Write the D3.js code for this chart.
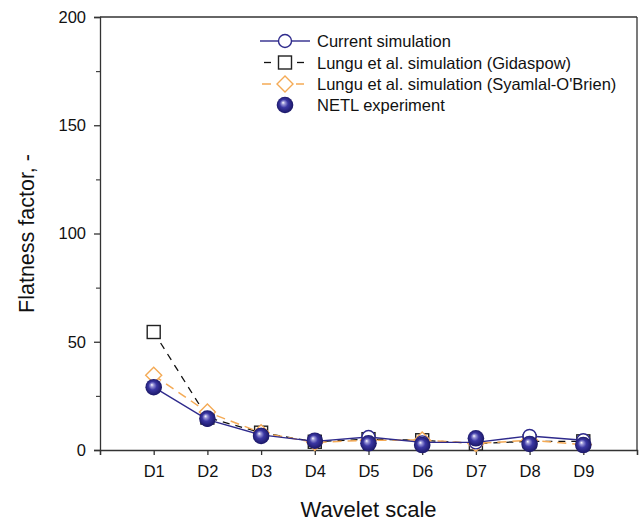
<!DOCTYPE html>
<html>
<head>
<meta charset="utf-8">
<script src="https://cdn.jsdelivr.net/npm/d3@7"></script>
<style>
  html, body { margin: 0; padding: 0; background: #fff; }
  svg { display: block; font-family: "Liberation Sans", Arial, sans-serif; }
</style>
</head>
<body>
<svg id="chart" width="639" height="522"></svg>
<script>
// Wavelet scales and flatness factor per scale
const scales = ["D1", "D2", "D3", "D4", "D5", "D6", "D7", "D8", "D9"];
const currentSim = [29, 14, 7, 4, 6, 3.5, 3.5, 6.5, 4.5];
const gidaspow = [54.5, 15, 8, 3.8, 5, 4.5, 3, 4, 4];
const syamlal = [34.5, 17.5, 8, 3.5, 4.5, 4.6, 3, 4.5, 2.5];
const netl = [29, 14.5, 6.5, 4.3, 3.1, 2.3, 5.4, 2.8, 2.3];
const yTicks = [0, 50, 100, 150, 200];
const yMinorTicks = [25, 75, 125, 175];

const legendLabels = [
  "Current simulation",
  "Lungu et al. simulation (Gidaspow)",
  "Lungu et al. simulation (Syamlal-O'Brien)",
  "NETL experiment"
];

const navy = "#2e2a8c";
const orange = "#f4aa55";
const font = "'Liberation Sans', Arial, sans-serif";

const svg = d3.select("#chart");
const margin = { left: 100, right: 2, top: 17, bottom: 72 };
const W = 639, H = 522;

const x = d3.scaleLinear().domain([0, 10]).range([margin.left, W - margin.right]);
const y = d3.scaleLinear().domain([0, 200]).range([H - margin.bottom, margin.top]);

// sphere shading for the experiment markers
const defs = svg.append("defs");
const grad = defs.append("radialGradient")
  .attr("id", "sphere").attr("cx", "50%").attr("cy", "50%").attr("r", "55%")
  .attr("fx", "38%").attr("fy", "35%");
grad.append("stop").attr("offset", "0%").attr("stop-color", "#ffffff");
grad.append("stop").attr("offset", "18%").attr("stop-color", "#9a97d8");
grad.append("stop").attr("offset", "45%").attr("stop-color", "#3b37a3");
grad.append("stop").attr("offset", "100%").attr("stop-color", "#15125c");

// frame
svg.append("line").attr("x1", x(0)).attr("x2", x(10)).attr("y1", y(200)).attr("y2", y(200))
  .attr("stroke", "#333").attr("stroke-width", 1.3);
svg.append("line").attr("x1", x(10)).attr("x2", x(10)).attr("y1", y(200)).attr("y2", y(0))
  .attr("stroke", "#333").attr("stroke-width", 1.3);

// y axis
const yAxis = d3.axisLeft(y).tickValues(yTicks).tickSize(6).tickPadding(8).tickFormat(d3.format("d"));
const gy = svg.append("g").attr("transform", `translate(${x(0)},0)`).call(yAxis);
gy.select(".domain").attr("stroke", "#333").attr("stroke-width", 1.3);
gy.selectAll(".tick line").attr("stroke", "#333").attr("stroke-width", 1.3);
gy.selectAll(".tick text").attr("font-size", 16.5).attr("fill", "#111").attr("font-family", font);
const yMinor = d3.axisLeft(y).tickValues(yMinorTicks).tickSize(4).tickFormat("");
const gym = svg.append("g").attr("transform", `translate(${x(0)},0)`).call(yMinor);
gym.select(".domain").remove();
gym.selectAll(".tick line").attr("stroke", "#333").attr("stroke-width", 1.1);

// x axis
const xAxis = d3.axisBottom(x).tickValues(d3.range(0, 11)).tickSize(5).tickPadding(10)
  .tickFormat(d => (d >= 1 && d <= 9) ? scales[d - 1] : "");
const gx = svg.append("g").attr("transform", `translate(0,${y(0)})`).call(xAxis);
gx.select(".domain").attr("stroke", "#333").attr("stroke-width", 1.3);
gx.selectAll(".tick line").attr("stroke", "#333").attr("stroke-width", 1.3);
gx.selectAll(".tick text").attr("font-size", 16.5).attr("fill", "#111").attr("font-family", font);

// axis titles
svg.append("text").attr("x", (x(0) + x(10)) / 2).attr("y", 517)
  .attr("text-anchor", "middle").attr("font-size", 22).attr("fill", "#111").text("Wavelet scale");
svg.append("text")
  .attr("transform", `translate(34,${(y(0) + y(200)) / 2}) rotate(-90)`)
  .attr("text-anchor", "middle").attr("font-size", 21.5).attr("fill", "#111").text("Flatness factor, -");

const line = d3.line().x((d, i) => x(i + 1)).y(d => y(d));
const plot = svg.append("g");

// marker shapes
function square(g, cx, cy, color) {
  g.append("rect").attr("x", cx - 6.5).attr("y", cy - 6.5).attr("width", 13).attr("height", 13)
    .attr("fill", "#fff").attr("stroke", color).attr("stroke-width", 1.4);
}
function diamond(g, cx, cy, color) {
  const r = 8;
  g.append("path").attr("d", `M${cx},${cy - r}L${cx + r},${cy}L${cx},${cy + r}L${cx - r},${cy}Z`)
    .attr("fill", "#fff").attr("stroke", color).attr("stroke-width", 1.4);
}
function circle(g, cx, cy, color) {
  g.append("circle").attr("cx", cx).attr("cy", cy).attr("r", 6.5)
    .attr("fill", "#fff").attr("stroke", color).attr("stroke-width", 1.4);
}
function sphere(g, cx, cy) {
  g.append("circle").attr("cx", cx).attr("cy", cy).attr("r", 8.3).attr("fill", "url(#sphere)");
}

// Gidaspow series
plot.append("path").datum(gidaspow).attr("d", line).attr("fill", "none")
  .attr("stroke", "#111").attr("stroke-width", 1.3).attr("stroke-dasharray", "7,6");
gidaspow.forEach((v, i) => square(plot, x(i + 1), y(v), "#222"));

// Syamlal-O'Brien series
plot.append("path").datum(syamlal).attr("d", line).attr("fill", "none")
  .attr("stroke", orange).attr("stroke-width", 1.5).attr("stroke-dasharray", "9,6");
syamlal.forEach((v, i) => diamond(plot, x(i + 1), y(v), orange));

// current simulation series
plot.append("path").datum(currentSim).attr("d", line).attr("fill", "none")
  .attr("stroke", navy).attr("stroke-width", 1.4);
currentSim.forEach((v, i) => circle(plot, x(i + 1), y(v), navy));

// experiment
netl.forEach((v, i) => sphere(plot, x(i + 1), y(v)));

// legend
const legend = svg.append("g");
const rows = [41, 62.5, 84, 105];
const lx1 = 260, lx2 = 310, lm = 285, tx = 317;
// row 1: solid line with circle
legend.append("line").attr("x1", lx1).attr("x2", lm - 7).attr("y1", rows[0]).attr("y2", rows[0])
  .attr("stroke", navy).attr("stroke-width", 1.4);
legend.append("line").attr("x1", lm + 7).attr("x2", lx2).attr("y1", rows[0]).attr("y2", rows[0])
  .attr("stroke", navy).attr("stroke-width", 1.4);
circle(legend, lm, rows[0], navy);
// row 2: dashed black with square
legend.append("line").attr("x1", lx1 + 4).attr("x2", lx1 + 11).attr("y1", rows[1]).attr("y2", rows[1])
  .attr("stroke", "#111").attr("stroke-width", 1.3);
legend.append("line").attr("x1", lm + 12).attr("x2", lm + 19).attr("y1", rows[1]).attr("y2", rows[1])
  .attr("stroke", "#111").attr("stroke-width", 1.3);
square(legend, lm, rows[1], "#222");
// row 3: dashed orange with diamond
legend.append("line").attr("x1", lx1 + 2).attr("x2", lx1 + 11).attr("y1", rows[2]).attr("y2", rows[2])
  .attr("stroke", orange).attr("stroke-width", 1.5);
legend.append("line").attr("x1", lm + 11).attr("x2", lm + 19).attr("y1", rows[2]).attr("y2", rows[2])
  .attr("stroke", orange).attr("stroke-width", 1.5);
diamond(legend, lm, rows[2], orange);
// row 4: sphere
sphere(legend, lm, rows[3]);

legendLabels.forEach((t, i) => {
  legend.append("text").attr("x", tx).attr("y", rows[i] + 6).attr("font-size", 16.5)
    .attr("fill", "#111").text(t);
});
</script>
</body>
</html>
